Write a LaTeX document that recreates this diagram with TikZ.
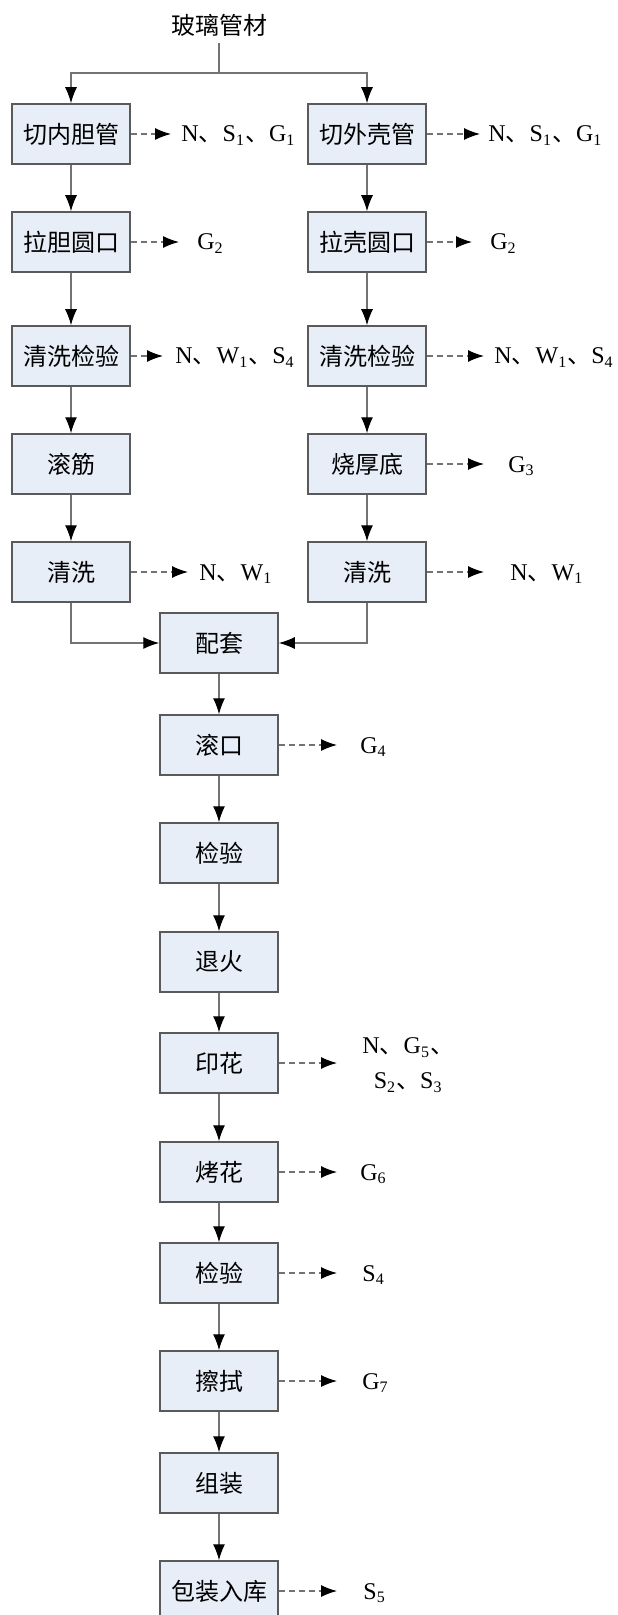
\documentclass[tikz,border=0pt]{standalone}
\usepackage{fontspec}
\setmainfont{Liberation Serif}
\newfontfamily\cjk{Noto Sans CJK SC}
\usetikzlibrary{arrows.meta,positioning}
\definecolor{myfill}{RGB}{232,238,248}
\definecolor{mydraw}{RGB}{90,90,90}
\definecolor{myline}{RGB}{115,115,115}
\newcommand{\dn}{{\cjk 、}}

\begin{document}
\begin{tikzpicture}[x=0.5pt,y=-0.5pt,font=\fontsize{12}{17.5}\selectfont,
  proc/.style={draw=mydraw,fill=myfill,line width=0.75pt,minimum width=59pt,
    minimum height=30pt,inner sep=0pt,font=\fontsize{12}{14}\selectfont\cjk},
  flow/.style={draw=myline,line width=0.6pt,-{Latex[length=8pt,width=6pt,color=black]}},
  waste/.style={flow,dash pattern=on 3pt off 2pt},
  lbl/.style={anchor=base west,inner sep=0pt}]

  \useasboundingbox (0,0) rectangle (617,1615);
  \clip (0,0) rectangle (617,1615);

  \node[font=\fontsize{12}{14}\selectfont\cjk] (src) at (219,25) {玻璃管材};
  \coordinate (split) at (219,73);

  % inner tube side
  \node[proc] (a1) at (71,134) {切内胆管};
  \node[proc] (a2) at (71,242) {拉胆圆口};
  \node[proc] (a3) at (71,356) {清洗检验};
  \node[proc] (a4) at (71,464) {滚筋};
  \node[proc] (a5) at (71,572) {清洗};

  % outer shell side
  \node[proc] (b1) at (367,134) {切外壳管};
  \node[proc] (b2) at (367,242) {拉壳圆口};
  \node[proc] (b3) at (367,356) {清洗检验};
  \node[proc] (b4) at (367,464) {烧厚底};
  \node[proc] (b5) at (367,572) {清洗};

  % main line
  \node[proc] (c1) at (219,643) {配套};
  \node[proc] (c2) at (219,745) {滚口};
  \node[proc] (c3) at (219,853) {检验};
  \node[proc] (c4) at (219,962) {退火};
  \node[proc] (c5) at (219,1063) {印花};
  \node[proc] (c6) at (219,1172) {烤花};
  \node[proc] (c7) at (219,1273) {检验};
  \node[proc] (c8) at (219,1381) {擦拭};
  \node[proc] (c9) at (219,1483) {组装};
  \node[proc] (c10) at (219,1591) {包装入库};

  % emissions
  \node[lbl] (ea1) at (181,142) {N\dn S\textsubscript{1}\dn G\textsubscript{1}};
  \node[lbl] (eb1) at (488,142) {N\dn S\textsubscript{1}\dn G\textsubscript{1}};
  \node[lbl] (ea2) at (197,250) {G\textsubscript{2}};
  \node[lbl] (eb2) at (490,250) {G\textsubscript{2}};
  \node[lbl] (ea3) at (175,364) {N\dn W\textsubscript{1}\dn S\textsubscript{4}};
  \node[lbl] (eb3) at (494,364) {N\dn W\textsubscript{1}\dn S\textsubscript{4}};
  \node[lbl] (eb4) at (508,472) {G\textsubscript{3}};
  \node[lbl] (ea5) at (199,580) {N\dn W\textsubscript{1}};
  \node[lbl] (eb5) at (510,580) {N\dn W\textsubscript{1}};
  \node[lbl] (ec2) at (360,753) {G\textsubscript{4}};
  \node[anchor=west,inner sep=0pt,align=center] (ec5) at (362,1065)
    {N\dn G\textsubscript{5}\dn\\S\textsubscript{2}\dn S\textsubscript{3}};
  \node[lbl] (ec6) at (360,1180) {G\textsubscript{6}};
  \node[lbl] (ec7) at (362,1281) {S\textsubscript{4}};
  \node[lbl] (ec8) at (362,1389) {G\textsubscript{7}};
  \node[lbl] (ec10) at (363,1599) {S\textsubscript{5}};

  \draw[draw=myline,line width=0.6pt] (src) -- (split);
  \draw[flow] (split) -| (a1);
  \draw[flow] (split) -| (b1);

  \foreach \i [count=\j from 2] in {1,...,4} {
    \draw[flow] (a\i) -- (a\j);
    \draw[flow] (b\i) -- (b\j);
  }
  \draw[flow] (a5) |- (c1);
  \draw[flow] (b5) |- (c1);
  \foreach \i [count=\j from 2] in {1,...,9}
    \draw[flow] (c\i) -- (c\j);

  % dashed outputs
  \foreach \n/\e/\g in {a1/ea1/5,b1/eb1/4,a2/ea2/9,b2/eb2/9,a3/ea3/6,b3/eb3/5,
      b4/eb4/12,a5/ea5/5.5,b5/eb5/13,c2/ec2/11.5,c5/ec5/12.5,c6/ec6/11.5,
      c7/ec7/12.5,c8/ec8/12.5,c10/ec10/13}
    \draw[waste,shorten >=\g pt] (\n.east) -- (\n.east -| \e.west);

\end{tikzpicture}
\end{document}
